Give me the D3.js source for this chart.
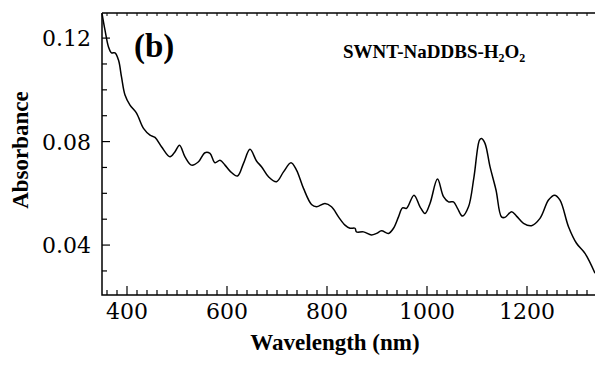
<!DOCTYPE html>
<html lang="en">
  <head>
    <meta charset="UTF-8" />
    <title>Absorbance spectrum (b)</title>
    <script src="https://cdn.jsdelivr.net/npm/d3@7"></script>
    <style>
      body { margin: 0; background: #fff; }
    </style>
  </head>
  <body>
    <svg width="595" height="365"></svg>

    <script>
      // spectrum: wavelength (nm) and absorbance
      const wavelength = [350, 356, 363, 369, 376, 383, 389, 396, 406, 419, 433, 446, 456, 469, 486, 496,
        505, 516, 529, 543, 556, 566, 576, 586, 596, 606, 621, 633, 646, 659, 669, 683, 699, 713, 728,
        739, 753, 769, 779, 796, 809, 823, 836, 846, 856, 859, 873, 889, 899, 909, 923, 933, 943, 951,
        959, 974, 986, 996, 1006, 1021, 1033, 1043, 1053, 1061, 1071, 1083, 1094, 1105, 1109, 1116,
        1126, 1138, 1149, 1156, 1169, 1179, 1193, 1209, 1226, 1243, 1255, 1266, 1283, 1299, 1316, 1336]
      const absorbance = [0.1296, 0.1231, 0.1166, 0.1143, 0.1143, 0.1115, 0.1050, 0.0980, 0.0941, 0.0910,
        0.0851, 0.0825, 0.0816, 0.0780, 0.0741, 0.0761, 0.0786, 0.0741, 0.0709, 0.0722, 0.0757, 0.0754,
        0.0718, 0.0728, 0.0709, 0.0686, 0.0667, 0.0716, 0.0770, 0.0725, 0.0703, 0.0664, 0.0645, 0.0683,
        0.0718, 0.0690, 0.0619, 0.0557, 0.0548, 0.0561, 0.0548, 0.0509, 0.0477, 0.0465, 0.0465, 0.0451,
        0.0451, 0.0439, 0.0445, 0.0455, 0.0445, 0.0465, 0.0509, 0.0544, 0.0542, 0.0593, 0.0548, 0.0522,
        0.0561, 0.0655, 0.0587, 0.0567, 0.0567, 0.0542, 0.0512, 0.0548, 0.0664, 0.0806, 0.0812, 0.0793,
        0.0703, 0.0613, 0.0509, 0.0507, 0.0529, 0.0512, 0.0484, 0.0475, 0.0503, 0.0574, 0.0593, 0.0574,
        0.0471, 0.0407, 0.0368, 0.0291]

      const xTicks = [400, 600, 800, 1000, 1200]
      const yTicks = [0.04, 0.08, 0.12]

      const data = wavelength.map((w, i) => ({ x: w, y: absorbance[i] }))

      const serif = "'Liberation Serif', 'Times New Roman', Times, serif"
      const tickFont = "'DejaVu Serif', serif"

      const svg = d3.select('svg')
      const margin = { top: 13, right: 0, bottom: 70, left: 102 }
      const width = +svg.attr('width')
      const height = +svg.attr('height')

      const x = d3.scaleLinear().domain([350, 1336]).range([margin.left, width - margin.right])
      const y = d3.scaleLinear().domain([0.0207, 0.1297]).range([height - margin.bottom, margin.top])

      const x0 = margin.left
      const y0 = height - margin.bottom

      // frame: left, bottom and top lines
      svg.append('path')
        .attr('d', `M${x0},${margin.top}V${y0}H${width}M${x0},${margin.top}H${width}`)
        .attr('fill', 'none')
        .attr('stroke', '#000')
        .attr('stroke-width', 1.5)

      // ticks every 20 nm on bottom (inside) and top
      const xMinor = d3.range(360, 1340, 20)
      svg.append('g').selectAll('line')
        .data(xMinor)
        .join('line')
        .attr('x1', d => x(d)).attr('x2', d => x(d))
        .attr('y1', y0)
        .attr('y2', d => y0 - (d % 200 === 0 ? 9 : 5))
        .attr('stroke', '#000').attr('stroke-width', 1.2)

      svg.append('g').selectAll('line')
        .data(xMinor)
        .join('line')
        .attr('x1', d => x(d)).attr('x2', d => x(d))
        .attr('y1', margin.top)
        .attr('y2', margin.top + 3)
        .attr('stroke', '#000').attr('stroke-width', 1)

      // y ticks every 0.01, inside
      const yMinor = d3.range(3, 13).map(d => d / 100)
      svg.append('g').selectAll('line')
        .data(yMinor)
        .join('line')
        .attr('x1', x0)
        .attr('x2', d => x0 + (yTicks.some(t => Math.abs(t - d) < 1e-9) ? 8 : 5))
        .attr('y1', d => y(d)).attr('y2', d => y(d))
        .attr('stroke', '#000').attr('stroke-width', 1.2)

      // tick labels
      svg.append('g').selectAll('text')
        .data(xTicks)
        .join('text')
        .attr('x', d => x(d))
        .attr('y', 319)
        .attr('text-anchor', 'middle')
        .attr('font-family', tickFont)
        .attr('font-size', 22)
        .text(d => d)

      svg.append('g').selectAll('text')
        .data(yTicks)
        .join('text')
        .attr('x', 91)
        .attr('y', d => y(d) + 8)
        .attr('text-anchor', 'end')
        .attr('font-family', tickFont)
        .attr('font-size', 22)
        .text(d => d.toFixed(2))

      // the spectrum
      const line = d3.line()
        .x(d => x(d.x))
        .y(d => y(d.y))
        .curve(d3.curveCatmullRom.alpha(0.5))

      svg.append('path')
        .datum(data)
        .attr('fill', 'none')
        .attr('stroke', '#000')
        .attr('stroke-width', 1.5)
        .attr('d', line)

      // axis titles and labels
      svg.append('text')
        .attr('transform', 'translate(28,150) rotate(-90)')
        .attr('text-anchor', 'middle')
        .attr('font-family', serif)
        .attr('font-size', 23)
        .attr('font-weight', 'bold')
        .text('Absorbance')

      svg.append('text')
        .attr('x', 335)
        .attr('y', 350)
        .attr('text-anchor', 'middle')
        .attr('font-family', serif)
        .attr('font-size', 23)
        .attr('font-weight', 'bold')
        .text('Wavelength (nm)')

      svg.append('text')
        .attr('x', 134)
        .attr('y', 57)
        .attr('font-family', serif)
        .attr('font-size', 33)
        .attr('font-weight', 'bold')
        .text('(b)')

      const sample = svg.append('text')
        .attr('x', 343)
        .attr('y', 58)
        .attr('font-family', serif)
        .attr('font-size', 19)
        .attr('font-weight', 'bold')
      sample.append('tspan').text('SWNT-NaDDBS-H')
      sample.append('tspan').attr('dy', 4).attr('font-size', 12).text('2')
      sample.append('tspan').attr('dy', -4).text('O')
      sample.append('tspan').attr('dy', 4).attr('font-size', 12).text('2')
    </script>
  </body>
</html>
